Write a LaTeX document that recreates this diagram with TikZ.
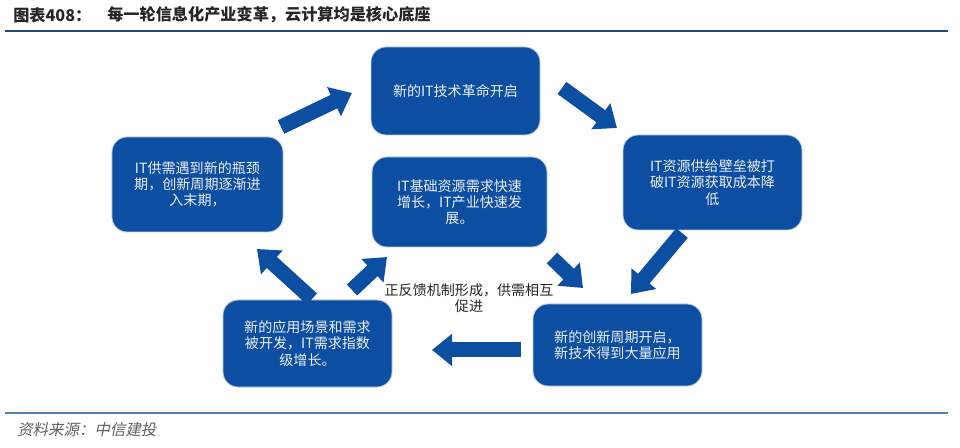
\documentclass[tikz,border=0pt]{standalone}
\usepackage{fontspec}
\setmainfont{Noto Sans CJK SC}
\newfontfamily\slantcjk[FakeSlant=0.2]{Noto Sans CJK SC}
\usetikzlibrary{arrows.meta}
\definecolor{boxblue}{RGB}{12,78,162}
\definecolor{boxedge}{RGB}{190,205,225}
\definecolor{boxtext}{RGB}{236,239,246}
\definecolor{inkgray}{RGB}{38,38,38}
\definecolor{srcgray}{RGB}{95,95,95}
\definecolor{titlerule}{RGB}{31,73,125}
\definecolor{footrule}{RGB}{84,130,175}

\begin{document}
\begin{tikzpicture}[x=0.25mm,y=-0.25mm,
  box/.style={rectangle,rounded corners=3.75mm,fill=boxblue,draw=boxedge,line width=0.6pt,text=boxtext,align=center,font=\fontsize{10pt}{11.5pt}\selectfont,minimum width=42.25mm,minimum height=22mm,inner sep=0pt},
  note/.style={align=center,text=inkgray,font=\fontsize{10pt}{11.5pt}\selectfont,inner sep=0pt},
  fatarrow/.style={draw=boxblue,line width=3.75mm,-{Triangle[width=7.75mm,length=5mm]}}]
\useasboundingbox (0,0) rectangle (960,448);
\node[anchor=west,inner sep=0pt,text=inkgray,font=\fontsize{11.5pt}{13pt}\selectfont\bfseries] (figno) at (13,15) {图表408：};
\node[anchor=west,inner sep=0pt,text=inkgray,font=\fontsize{11.5pt}{13pt}\selectfont\bfseries] (title) at (107,15) {每一轮信息化产业变革，云计算均是核心底座};
\draw[titlerule,line width=1.8pt] (5,31) -- (948,31);
\node[box] (start) at (455.5,91) {新的IT技术革命开启};
\node[box,minimum width=44.75mm,minimum height=23.75mm] (cost) at (712.5,182.5) {IT资源供给壁垒被打\\破IT资源获取成本降\\低};
\node[box,minimum width=42.75mm,minimum height=23.75mm] (decline) at (197.5,184.5) {IT供需遇到新的瓶颈\\期，创新周期逐渐进\\入末期，};
\node[box,minimum width=43.75mm,minimum height=22.5mm] (growth) at (459.5,202) {IT基础资源需求快速\\增长，IT产业快速发\\展。};
\node[box,minimum height=21.75mm] (demand) at (307.5,343.5) {新的应用场景和需求\\被开发，IT需求指数\\级增长。};
\node[box,minimum height=20.5mm,align=left] (cycle) at (617.5,345) {新的创新周期开启，\\新技术得到大量应用};
\node[note] (loop) at (469,298) {正反馈机制形成，供需相互\\促进};
\coordinate (decline-out) at (281,127);
\coordinate (start-in) at (352,93);
\coordinate (start-out) at (562,88);
\coordinate (cost-in) at (617,128);
\coordinate (cost-out) at (682,233);
\coordinate (cycle-in) at (631,294);
\coordinate (cycle-out) at (521,350);
\coordinate (demand-in) at (432,350);
\coordinate (demand-out) at (312,299);
\coordinate (decline-in) at (257,249);
\coordinate (loop-up) at (352,290);
\coordinate (growth-in) at (387,257);
\coordinate (growth-out) at (552,258);
\coordinate (loop-down) at (583,288);
\draw[fatarrow] (decline-out) -- (start-in);
\draw[fatarrow] (start-out) -- (cost-in);
\draw[fatarrow] (cost-out) -- (cycle-in);
\draw[fatarrow] (cycle-out) -- (demand-in);
\draw[fatarrow] (demand-out) -- (decline-in);
\draw[fatarrow] (loop-up) -- (growth-in);
\draw[fatarrow] (growth-out) -- (loop-down);
\draw[footrule,line width=1.1pt] (5,413) -- (948,413);
\node[anchor=west,inner sep=0pt,text=srcgray,font=\fontsize{11pt}{13pt}\slantcjk] (source) at (17,430) {资料来源：中信建投};
\end{tikzpicture}
\end{document}
